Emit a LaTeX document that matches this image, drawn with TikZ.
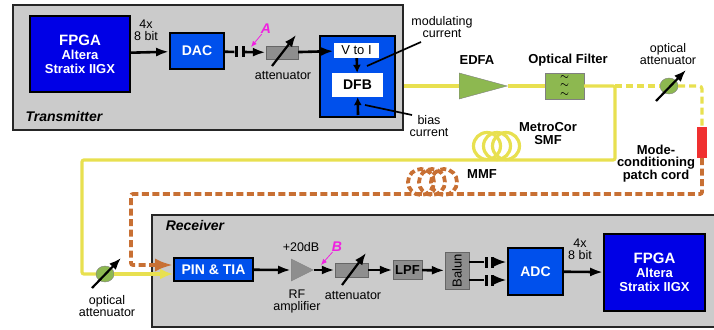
\documentclass[tikz,border=0pt]{standalone}
\usepackage{fontspec}
\setmainfont{Liberation Sans}
\usetikzlibrary{shapes,shapes.geometric,arrows.meta,positioning}

\definecolor{panelgray}{HTML}{CBCBCB}
\definecolor{fpgablue}{HTML}{0000E6}
\definecolor{convblue}{HTML}{0050EC}
\definecolor{partgray}{HTML}{8E8E8E}
\definecolor{fibyellow}{HTML}{E8E050}
\definecolor{fibbrown}{HTML}{C87034}
\definecolor{partgreen}{HTML}{8DB850}
\definecolor{cordred}{HTML}{F03030}
\definecolor{tagpink}{HTML}{F020E0}

\begin{document}
\begin{tikzpicture}[x=1pt,y=-1pt]
            \useasboundingbox (0,0) rectangle (714,329);

            \tikzstyle{panel}=[rectangle,draw=black!85,line width=1.8pt,fill=panelgray,inner sep=0pt]
            \tikzstyle{fpga}=[rectangle,draw=black,line width=1.8pt,fill=fpgablue,text=white,align=center,inner sep=0pt,font=\fontsize{13}{13}\selectfont\bfseries]
            \tikzstyle{conv}=[rectangle,draw=black,line width=1.8pt,fill=convblue,text=white,inner sep=0pt,font=\fontsize{14}{14}\selectfont\bfseries]
            \tikzstyle{part}=[rectangle,draw=black!60,fill=partgray,inner sep=0pt]
            \tikzstyle{whitebox}=[rectangle,fill=white,inner sep=0pt,font=\fontsize{13}{13}\selectfont]
            \tikzstyle{txt}=[inner sep=0pt,align=center,font=\fontsize{12.5}{12}\selectfont]
            \tikzstyle{head}=[inner sep=0pt,align=center,font=\fontsize{13}{13}\selectfont\bfseries]
            \tikzstyle{tag}=[inner sep=0pt,text=tagpink,font=\fontsize{14}{14}\selectfont\bfseries\itshape]
            \tikzstyle{plate}=[rectangle,fill=black,minimum width=3pt,minimum height=11pt,inner sep=0pt]
            \tikzstyle{tune}=[ellipse,draw=black!50,fill=partgreen,minimum width=18pt,minimum height=16pt,inner sep=0pt]

            \tikzstyle{wire}=[line width=2.6pt,-{Latex[length=13pt,width=9pt]}]
            \tikzstyle{lead}=[line width=1.7pt]
            \tikzstyle{knob}=[line width=2.2pt,-{Latex[length=12pt,width=9pt]}]
            \tikzstyle{point}=[tagpink,line width=0.8pt,-{Latex[length=6pt,width=5pt]}]
            \tikzstyle{smf}=[fibyellow,line width=3.2pt]
            \tikzstyle{mmf}=[fibbrown,line width=3.8pt,dash pattern=on 7pt off 3.5pt]

            % transmitter
            \node[panel,minimum width=390pt,minimum height=125pt] (tx) at (208,67.5) {};
            \node[fpga,minimum width=100pt,minimum height=76pt] (fpga1) at (80,54)
                {{\fontsize{15}{15}\selectfont FPGA}\\[1pt]Altera\\[1pt]Stratix IIGX};
            \node[conv,minimum width=54pt,minimum height=36pt] (dac) at (197,51) {DAC};
            \node[plate] (c1) at (236,52) {};
            \node[plate] (c2) at (243,52) {};
            \node[part,minimum width=32pt,minimum height=13pt] (att1) at (282,52.5) {};
            \node[rectangle,draw=black,line width=1.8pt,fill=convblue,minimum width=75pt,minimum height=81pt] (laser) at (357.5,76.5) {};
            \node[whitebox,minimum width=45pt,minimum height=15pt] (vtoi) at (356.5,50.5) {V to I};
            \node[whitebox,minimum width=51pt,minimum height=24pt,font=\fontsize{14}{14}\selectfont\bfseries] (dfb) at (357.5,85) {DFB};
            \coordinate (biasin) at (358,115);
            \node[inner sep=0pt,font=\fontsize{14}{14}\selectfont\bfseries\itshape] (txname) at (64,116) {Transmitter};
            \node[txt] (bits1) at (146,30) {4x\\8 bit};
            \node[txt] (att1name) at (283,76) {attenuator};
            \node[tag] (tagA) at (266,29) {A};
            \coordinate (tagAend) at (251,47);
            \coordinate (knob1a) at (272,66);
            \coordinate (knob1b) at (296,35);

            \path[wire] (fpga1) edge (dac);
            \draw[lead,line width=2.6pt] (dac) -- (c1);
            \draw[wire] (c2) -- (att1);
            \draw[wire] (att1) -- (vtoi);
            \draw[wire,-{Latex[length=8pt,width=8pt]}] (vtoi) -- (dfb);
            \draw[wire,-{Latex[length=8pt,width=8pt]}] (biasin) -- (dfb);
            \draw[knob] (knob1a) -- (knob1b);
            \draw[point] (tagA) -- (tagAend);

            % current labels
            \node[txt] (modname) at (442,27) {modulating\\current};
            \node[txt] (biasname) at (429,126.5) {bias\\current};
            \coordinate (modtip) at (367,66);
            \coordinate (modend) at (421,42);
            \coordinate (biastip) at (365,105);
            \coordinate (biasend) at (412,115);
            \draw[lead] (modtip) -- (modend);
            \draw[lead] (biastip) -- (biasend);

            % fibre path
            \node[isosceles triangle,isosceles triangle stretches,draw=black!50,fill=partgreen,minimum width=26pt,minimum height=48pt,inner sep=0pt,anchor=lower side] (edfa) at (459,86) {};
            \node[head] (edfaname) at (477,60) {EDFA};
            \node[rectangle,draw=black!50,fill=partgreen,minimum width=39pt,minimum height=26pt,inner sep=0pt,align=center,font=\fontsize{10}{8.5}\selectfont\boldmath] (filter) at (564.5,86) {$\sim$\\$\sim$\\$\sim$};
            \node[head] (filtername) at (568,60) {Optical Filter};
            \coordinate (jct) at (615,86);
            \coordinate (smfa) at (615,160);
            \coordinate (smfb) at (82,160);
            \coordinate (smfc) at (82,274);
            \node[tune] (oatt1) at (669,86) {};
            \node[txt] (oatt1name) at (668,54.5) {optical\\attenuator};
            \coordinate (knob2a) at (656,101);
            \coordinate (knob2b) at (686,70);
            \node[rectangle,fill=cordred,minimum width=10pt,minimum height=31pt,inner sep=0pt] (cord) at (702,142.5) {};
            \node[txt,font=\fontsize{13}{12}\selectfont\bfseries] (cordname) at (656,164) {Mode-\\conditioning\\patch cord};
            \node[head] (smfname) at (548,133.5) {MetroCor\\SMF};
            \node[head] (mmfname) at (482,174) {MMF};
            \coordinate (mmfa) at (702,194);
            \coordinate (mmfb) at (131,194);
            \coordinate (mmfc) at (131,265);

            \draw[smf] (tx.east |- edfa.lower side) -- (edfa.lower side);
            \draw[smf] (edfa.apex) -- (filter);
            \draw[smf,rounded corners=2pt] (filter) -- (jct) -- (smfa) -- (smfb) -- (smfc) -- (oatt1.west |- smfc);
            \draw[smf,dash pattern=on 7pt off 4pt] (jct) -- (oatt1);
            \draw[smf,dash pattern=on 7pt off 4pt,rounded corners=3pt] (oatt1) -| (cord);
            \draw[mmf,rounded corners=2pt] (cord) -- (mmfa) -- (mmfb) -- (mmfc) -- (150,265);

            \node[circle,draw=fibyellow,line width=3.2pt,minimum size=27pt,inner sep=0pt] (smf1) at (487,146) {};
            \node[circle,draw=fibyellow,line width=3.2pt,minimum size=27pt,inner sep=0pt] (smf2) at (497,146) {};
            \node[circle,draw=fibyellow,line width=3.2pt,minimum size=27pt,inner sep=0pt] (smf3) at (506,146) {};
            \node[circle,draw=fibbrown,line width=3.8pt,dash pattern=on 6pt off 3pt,minimum size=26pt,inner sep=0pt] (mmf1) at (421,182) {};
            \node[circle,draw=fibbrown,line width=3.8pt,dash pattern=on 6pt off 3pt,minimum size=26pt,inner sep=0pt] (mmf2) at (432,182) {};
            \node[circle,draw=fibbrown,line width=3.8pt,dash pattern=on 6pt off 3pt,minimum size=26pt,inner sep=0pt] (mmf3) at (444,182) {};
            \draw[knob] (knob2a) -- (knob2b);

            % receiver
            \node[panel,minimum width=564pt,minimum height=112pt] (rx) at (434,271) {};
            \node[inner sep=0pt,font=\fontsize{14}{14}\selectfont\bfseries\itshape] (rxname) at (195,225) {Receiver};
            \node[conv,minimum width=79pt,minimum height=23pt] (pin) at (213.5,269.5) {PIN \& TIA};
            \node[isosceles triangle,isosceles triangle stretches,draw=black!50,fill=partgray,minimum width=22pt,minimum height=22pt,inner sep=0pt,anchor=lower side] (rfamp) at (291,270) {};
            \node[part,minimum width=33pt,minimum height=14pt] (att2) at (351.5,270) {};
            \node[part,minimum width=29pt,minimum height=19pt,font=\fontsize{13}{13}\selectfont\bfseries] (lpf) at (407.5,270) {LPF};
            \node[part,minimum width=24pt,minimum height=37pt] (balun) at (457,270.5) {\rotatebox{90}{\fontsize{13}{13}\selectfont Balun}};
            \node[plate] (c3) at (486,262) {};
            \node[plate] (c4) at (492,262) {};
            \node[plate] (c5) at (486,280) {};
            \node[plate] (c6) at (492,280) {};
            \node[conv,minimum width=55pt,minimum height=47pt] (adc) at (535.5,271.5) {ADC};
            \node[fpga,minimum width=101pt,minimum height=77pt] (fpga2) at (654.5,272.5)
                {{\fontsize{15}{15}\selectfont FPGA}\\[1pt]Altera\\[1pt]Stratix IIGX};
            \node[txt] (gain) at (301,247) {+20dB};
            \node[txt] (rfname) at (297,301.5) {RF\\amplifier};
            \node[txt] (att2name) at (353,296) {attenuator};
            \node[txt] (bits2) at (580,249.5) {4x\\8 bit};
            \node[tag] (tagB) at (337,247) {B};
            \coordinate (tagBend) at (321,265);
            \coordinate (knob3a) at (342,285);
            \coordinate (knob3b) at (366,253);

            \draw[wire] (pin) -- (rfamp.lower side);
            \draw[wire] (rfamp.apex) -- (att2);
            \draw[wire] (att2) -- (lpf);
            \draw[wire] (lpf) -- (balun);
            \draw[lead,line width=2.6pt] (balun.east |- c3) -- (c3);
            \draw[lead,line width=2.6pt] (balun.east |- c5) -- (c5);
            \draw[wire] (c4) -- (adc.west |- c4);
            \draw[wire] (c6) -- (adc.west |- c6);
            \draw[wire] (adc) -- (fpga2);
            \draw[knob] (knob3a) -- (knob3b);
            \draw[point] (tagB) -- (tagBend);

            % receiver input
            \node[tune] (oatt2) at (105,274) {};
            \node[txt] (oatt2name) at (107,306) {optical\\attenuator};
            \coordinate (knob4a) at (92,288);
            \coordinate (knob4b) at (121,258);
            \draw[smf,-{Latex[length=13pt,width=11pt]}] (oatt2) -- (pin.west |- oatt2);
            \draw[fibbrown,line width=3.8pt,-{Latex[length=18pt,width=13pt]}] (150,265) -- (pin.west |- mmfc);
            \draw[knob] (knob4a) -- (knob4b);
\end{tikzpicture}
\end{document}
